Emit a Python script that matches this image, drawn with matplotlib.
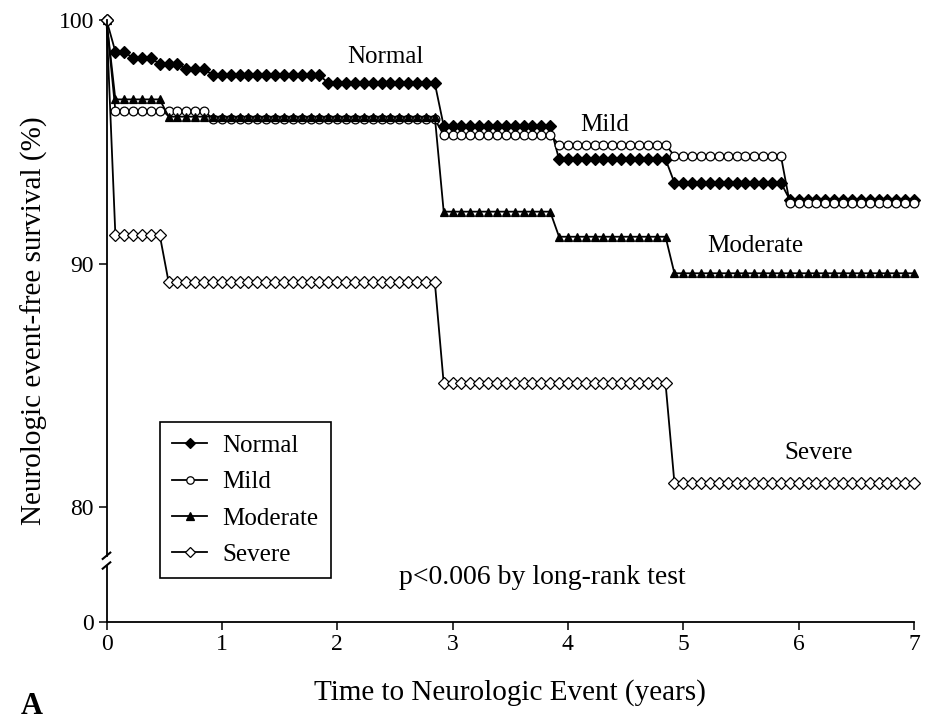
import numpy as np
import matplotlib
matplotlib.use('Agg')
import matplotlib.pyplot as plt

plt.rcParams['font.family'] = ['Liberation Serif', 'DejaVu Serif']

# observation times: every 4 weeks (13 per year) over 7 years
t_obs = np.arange(92) / 13.0

# step tables: time (years) a level starts, survival (%)
normal_t = [0, 0.07, 0.22, 0.45, 0.68, 0.91, 1.91, 2.91, 3.91, 4.91, 5.91]
normal_v = [100, 98.7, 98.43, 98.2, 97.97, 97.74, 97.4, 95.65, 94.28, 93.32, 92.62]
mild_t = [0, 0.07, 0.91, 2.91, 3.91, 4.91, 5.91]
mild_v = [100, 96.28, 95.92, 95.28, 94.88, 94.42, 92.48]
moderate_t = [0, 0.07, 0.53, 2.91, 3.91, 4.91]
moderate_v = [100, 96.74, 96.03, 92.13, 91.1, 89.6]
severe_t = [0, 0.07, 0.53, 2.91, 4.91]
severe_v = [100, 91.17, 89.24, 85.08, 81.0]

labels = ['Normal', 'Mild', 'Moderate', 'Severe']
y_ticks = [80, 90, 100]
x_ticks = [0, 1, 2, 3, 4, 5, 6, 7]

Y0 = 75.28      # where the "0" of the broken axis is drawn


def km(step_t, step_v):
    idx = np.searchsorted(step_t, t_obs, side='right') - 1
    return np.asarray(step_v)[idx]


fig = plt.figure(figsize=(9.27, 7.19), dpi=100)
ax = fig.add_axes([106.5 / 927, 97 / 719, 807.5 / 927, 602 / 719])

styles = [
    dict(marker='D', mfc='k', mec='k', ms=6),
    dict(marker='o', mfc='white', mec='k', ms=6.3),
    dict(marker='^', mfc='k', mec='k', ms=6.3),
    dict(marker='D', mfc='white', mec='k', ms=6),
]
series = [(normal_t, normal_v), (mild_t, mild_v), (moderate_t, moderate_v), (severe_t, severe_v)]

hs = []
for (st, sv), lab, sty in zip(series, labels, styles):
    h, = ax.plot(t_obs, km(st, sv), color='k', lw=1.3, mew=0.9, label=lab,
                 clip_on=False, **sty)
    hs.append(h)

ax.set_xlim(0, 7)
ax.set_ylim(Y0, 100)
ax.set_xticks(x_ticks)
ax.set_yticks([Y0] + y_ticks, labels=['0'] + [str(v) for v in y_ticks])
ax.tick_params(direction='out', length=6, width=1.1, labelsize=17, pad=3)

for s in ['top', 'right']:
    ax.spines[s].set_visible(False)
for s in ['left', 'bottom']:
    ax.spines[s].set_linewidth(1.3)

# broken y axis
brk_hi, brk_lo = 78.0, 77.6
ax.spines['left'].set_bounds(brk_hi, 100)
tr = ax.get_yaxis_transform()
ax.plot([0, 0], [Y0, brk_lo], color='k', lw=1.3, transform=tr, clip_on=False)
for yc in (brk_hi, brk_lo):
    ax.plot([-0.0047, 0.0047], [yc - 0.13, yc + 0.13], color='k', lw=1.5,
            transform=tr, clip_on=False)

# curve labels
ax.text(2.42, 98.5, 'Normal', fontsize=18, ha='center', va='center')
ax.text(4.32, 95.7, 'Mild', fontsize=18, ha='center', va='center')
ax.text(5.62, 90.7, 'Moderate', fontsize=18, ha='center', va='center')
ax.text(6.17, 82.2, 'Severe', fontsize=18, ha='center', va='center')
ax.text(3.775, 77.1, 'p<0.006 by long-rank test', fontsize=20, ha='center', va='center')

leg = ax.legend(handles=hs, loc='upper left', bbox_to_anchor=(0.066, 0.332),
                borderaxespad=0, fontsize=18, markerscale=0.85, handlelength=1.4,
                labelspacing=0.55, fancybox=False, edgecolor='k', framealpha=1,
                borderpad=0.5, handletextpad=0.6)
leg.get_frame().set_linewidth(1.2)

ax.set_xlabel('Time to Neurologic Event (years)', fontsize=21, labelpad=17)
ax.set_ylabel('Neurologic event-free survival (%)', fontsize=21, labelpad=8)
fig.text(32 / 927, 1 - 706 / 719, 'A', fontsize=22, fontweight='bold', ha='center', va='center')

fig.savefig('out.png', dpi=100)
